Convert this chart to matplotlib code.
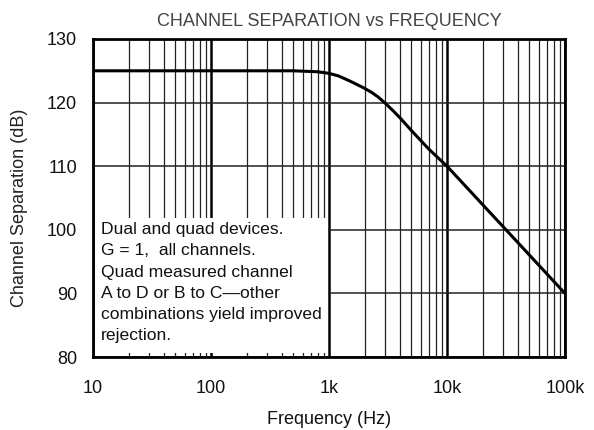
import matplotlib
matplotlib.use("Agg")
import matplotlib.pyplot as plt
import numpy as np
from matplotlib.ticker import FixedLocator, NullFormatter, LogLocator
from matplotlib.patches import Rectangle

plt.rcParams['font.family'] = ['Liberation Sans', 'DejaVu Sans']

freq = [10, 100, 200, 500, 800, 1000, 1200, 1500, 1700, 2000, 2300, 2600, 3000,
        3500, 4000, 5000, 7000, 10000, 100000]
sep_db = [125, 125, 125, 125, 124.85, 124.6, 124.2, 123.4, 122.9, 122.25, 121.6, 120.9, 119.9,
          118.7, 117.6, 115.6, 112.7, 110.0, 90.0]

x_ticks = [10, 100, 1000, 10000, 100000]
x_labels = ["10", "100", "1k", "10k", "100k"]
y_ticks = [80, 90, 100, 110, 120, 130]

note_lines = ["Dual and quad devices.",
              "G = 1,  all channels.",
              "Quad measured channel",
              "A to D or B to C\u2014other",
              "combinations yield improved",
              "rejection."]

fig = plt.figure(figsize=(5.94, 4.30), dpi=100)
ax = fig.add_axes([93/594, 1-357/430, (565-93)/594, (357-39)/430])
ax.set_xscale('log')
ax.set_xlim(10, 100000)
ax.set_ylim(80, 130)

ax.xaxis.set_major_locator(FixedLocator(x_ticks))
ax.xaxis.set_minor_locator(LogLocator(base=10, subs=np.arange(2, 10)))
ax.xaxis.set_minor_formatter(NullFormatter())
ax.set_xticks(x_ticks)
ax.set_xticklabels(x_labels)
ax.set_yticks(y_ticks)
ax.grid(True, which='major', axis='x', color='black', lw=1.8, zorder=1)
ax.grid(True, which='minor', axis='x', color='#222222', lw=0.9, zorder=1)
ax.grid(True, which='major', axis='y', color='#222222', lw=1.1, zorder=1)
ax.tick_params(which='both', length=0, labelsize=13, colors='#111111')
ax.tick_params(axis='y', pad=11.5)
ax.tick_params(axis='x', pad=16.5)
for s in ax.spines.values():
    s.set_linewidth(2.0)
    s.set_color('black')
    s.set_zorder(5)

ax.plot(freq, sep_db, color='black', lw=2.2, zorder=4, solid_capstyle='butt')

# white note box covering the grid
box = Rectangle((10.35, 80.6), 975 - 10.35, 101.9 - 80.6,
                facecolor='white', edgecolor='none', zorder=2)
ax.add_patch(box)
for i, line in enumerate(note_lines):
    ax.text(11.6, 100.0 - i * 3.33, line, fontsize=12.6, color='#111111',
            va='center', ha='left', zorder=3)

ax.set_title("CHANNEL SEPARATION vs FREQUENCY", fontsize=13, color='#444444', pad=9)
ax.set_xlabel("Frequency (Hz)", fontsize=13, color='#111111', labelpad=10)
ax.set_ylabel("Channel Separation (dB)", fontsize=13, color='#222222')
ax.yaxis.set_label_coords(-0.138, 0.47)

fig.savefig("out.png", dpi=100)
